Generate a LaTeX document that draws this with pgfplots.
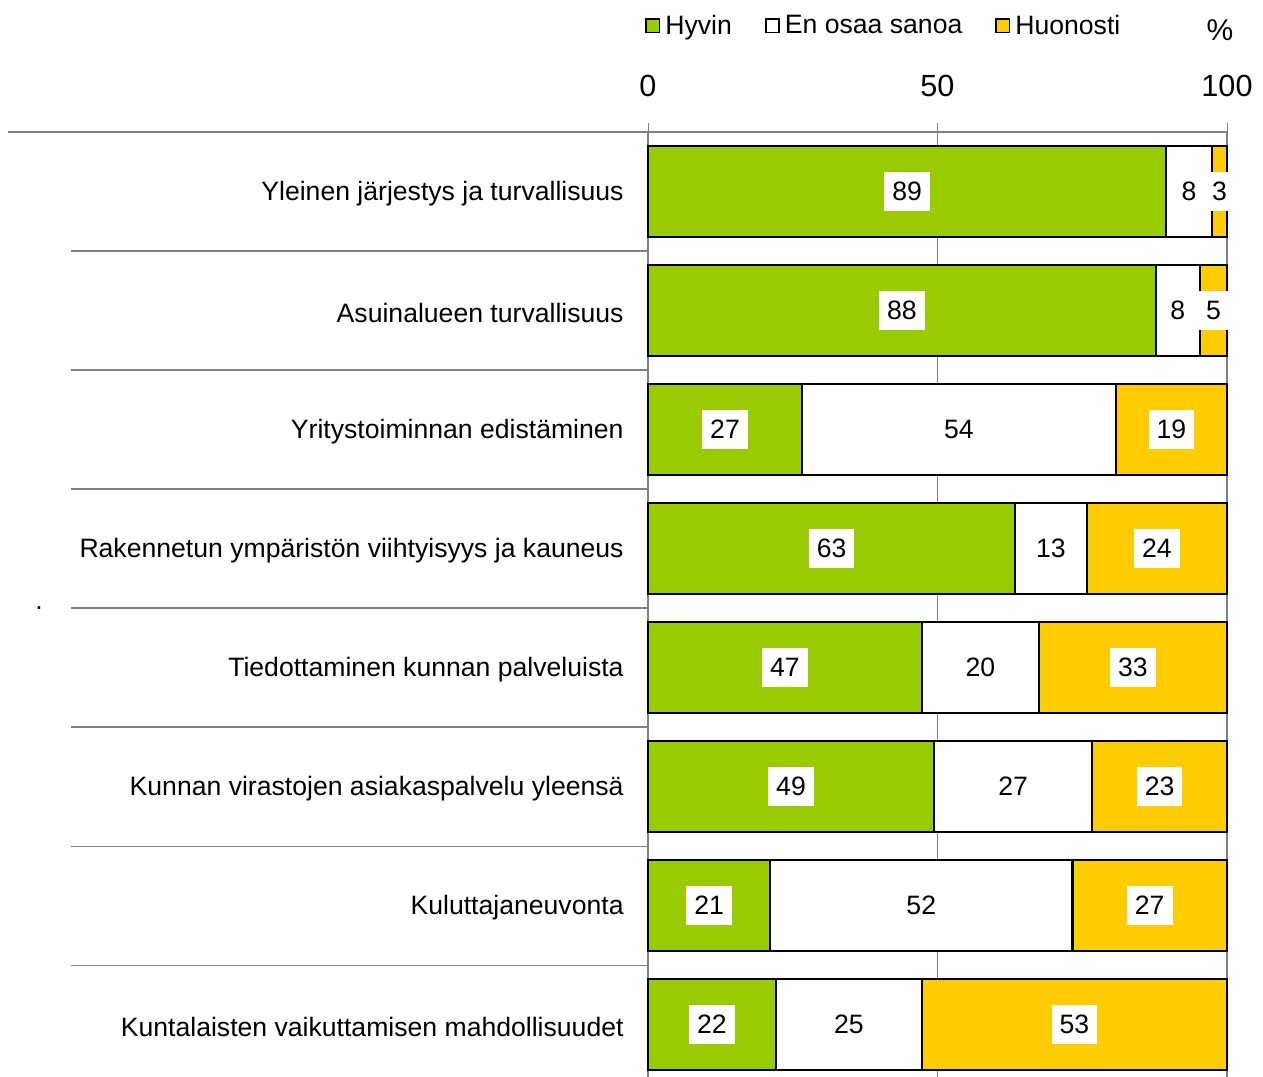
\documentclass[border=0pt]{standalone}
\usepackage{fontspec}
\setmainfont{Liberation Sans}
\usepackage{pgfplots}
\usepackage{pgfplotstable}
\pgfplotsset{compat=1.18}
\definecolor{cgreen}{HTML}{99CC00}
\definecolor{cyellow}{HTML}{FFCC00}
\definecolor{cgrid}{HTML}{808080}

% y: row position (8 = top row)
\pgfplotstableread{
y g w h gl wl hl
8 89.5 7.9 2.6 89 8 3
7 87.7 7.6 4.7 88 8 5
6 26.6 54.2 19.2 27 54 19
5 63.4 12.4 24.2 63 13 24
4 47.3 20.2 32.5 47 20 33
3 49.4 27.3 23.3 49 27 23
2 21.1 52.2 26.7 21 52 27
1 22.1 25.2 52.7 22 25 53
}\datatable

\newcommand{\lblfont}{\fontsize{13.3bp}{16bp}\selectfont}

\begin{document}
\begin{tikzpicture}
\useasboundingbox (0,0) rectangle (631.5bp,538.5bp);
\begin{axis}[
  at={(324bp,0bp)}, anchor=south west,
  scale only axis, width=289.5bp, height=472.5bp,
  xbar stacked, bar width=45.5bp,
  xmin=0, xmax=100, ymin=0.56, ymax=8.5,
  axis x line*=top,
  clip=false,
  xtick={0,50,100},
  xmajorgrids, grid style={cgrid, line width=0.5bp},
  major tick length=4.5bp,
  x tick style={cgrid, line width=0.5bp},
  tick align=outside,
  axis line style={cgrid, line width=0.6bp},
  /pgf/number format/assume math mode=true,
  xticklabel style={font=\fontsize{15.3bp}{18bp}\selectfont, yshift=9.5bp},
  ytick={1,...,8},
  yticklabels={Kuntalaisten vaikuttamisen mahdollisuudet,
    Kuluttajaneuvonta,
    Kunnan virastojen asiakaspalvelu yleensä,
    Tiedottaminen kunnan palveluista,
    Rakennetun ympäristön viihtyisyys ja kauneus,
    Yritystoiminnan edistäminen,
    Asuinalueen turvallisuus,
    Yleinen järjestys ja turvallisuus},
  y tick style={draw=none},
  yticklabel style={font=\lblfont, anchor=east, inner sep=0pt, xshift=-7.5bp, yshift=-1.2bp},
  nodes near coords,
  point meta=explicit symbolic,
  every node near coord/.style={fill=white, text=black, font=\lblfont,
     inner xsep=4bp, inner ysep=5bp, anchor=center},
  legend style={draw=none, fill=none, at={(0,1)}, anchor=west,
     xshift=-1.5bp, yshift=53bp, legend columns=3, font=\lblfont,
     /tikz/every even column/.append style={column sep=14bp},
     inner sep=0pt, nodes={inner xsep=2.5bp}},
  legend image code/.code={\draw[#1, line width=0.9bp] (0bp,-3.3bp) rectangle (6.6bp,3.3bp);},
]
\addplot[fill=cgreen, draw=black, line width=1.1bp] table[x=g, y=y, meta=gl] {\datatable};
\addlegendentry{Hyvin}
\addplot[fill=white, draw=black, line width=1.1bp] table[x=w, y=y, meta=wl] {\datatable};
\addlegendentry{En osaa sanoa}
\addplot[fill=cyellow, draw=black, line width=1.1bp] table[x=h, y=y, meta=hl] {\datatable};
\addlegendentry{Huonosti}

\pgfplotsinvokeforeach{1.5,2.5,3.5,4.5,5.5,6.5,7.5}{
  \draw[cgrid, line width=0.6bp] (axis cs:0,#1) -- ([xshift=-288.5bp]axis cs:0,#1);
}
\draw[cgrid, line width=0.6bp] (axis cs:0,8.5) -- ([xshift=-320bp]axis cs:0,8.5);
\node[font=\fontsize{15bp}{18bp}\selectfont] at (rel axis cs:0.988,1) [yshift=51bp] {\%};
\end{axis}
\node[font=\lblfont, anchor=base, inner sep=0pt] at (19.5bp,233.5bp) {.};
\end{tikzpicture}
\end{document}
